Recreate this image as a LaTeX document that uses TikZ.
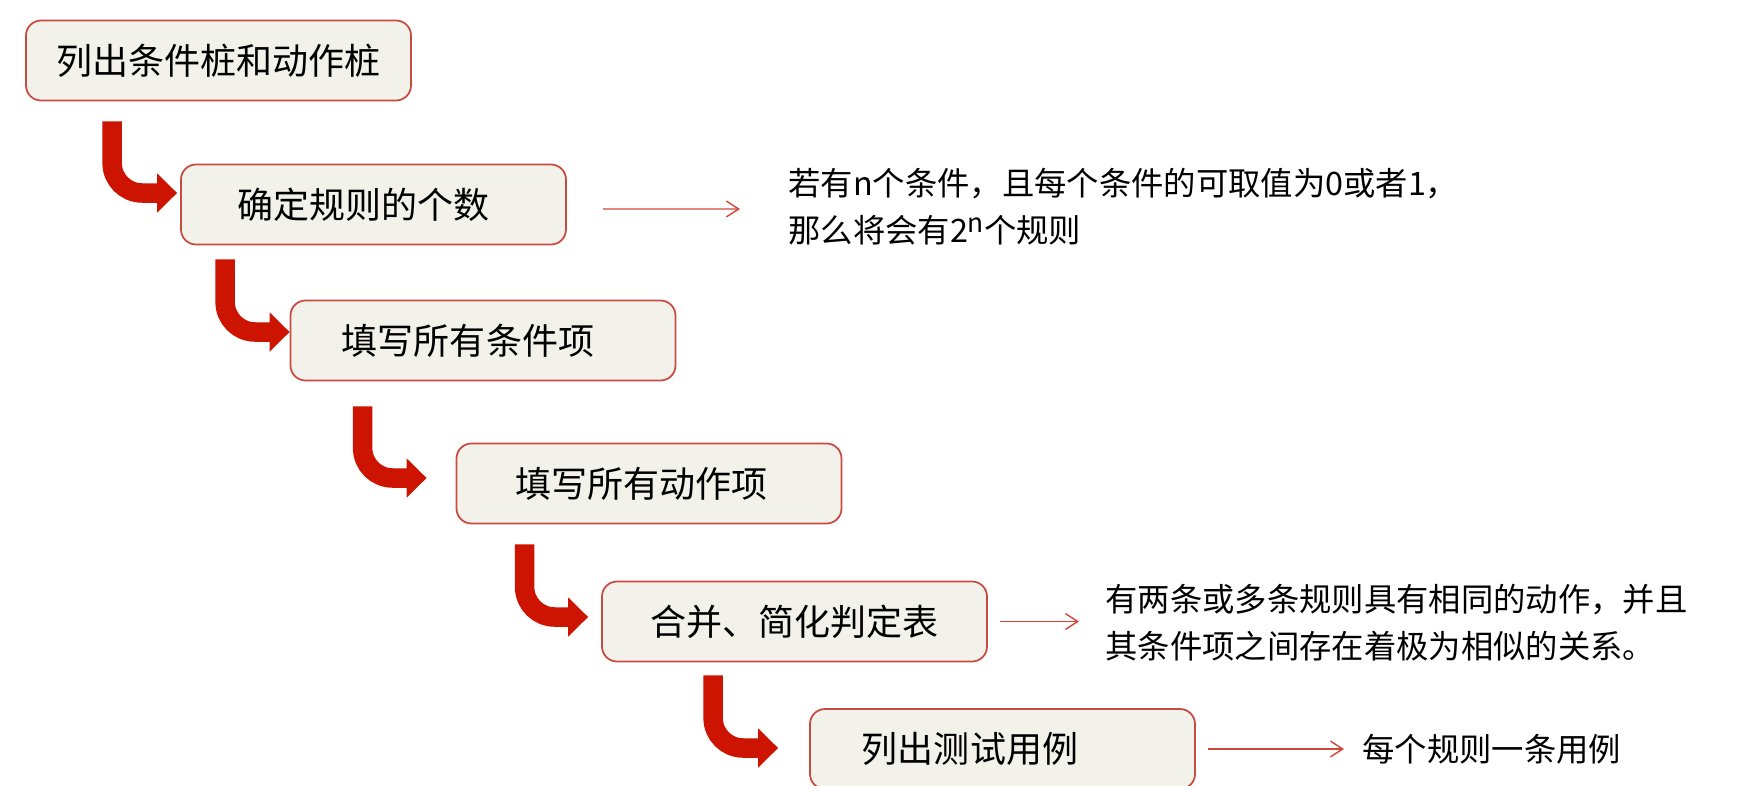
\documentclass[tikz,border=0pt]{standalone}
\usepackage{fontspec}
\setmainfont{Noto Sans CJK SC}
\usetikzlibrary{arrows.meta}
\usepackage{xcolor}

\definecolor{boxfill}{RGB}{242,242,234}
\definecolor{boxline}{RGB}{200,75,65}
\definecolor{bigred}{RGB}{204,20,0}
\definecolor{thinred}{RGB}{210,70,55}

\begin{document}
\begin{tikzpicture}[
        stepbox/.style={rectangle, rounded corners=0.3cm, draw=boxline, line width=1pt, fill=boxfill, minimum width=7.7cm, minimum height=1.6cm, inner sep=0pt, font=\fontsize{20.5}{24}\selectfont},
        note/.style={anchor=west, inner sep=0pt, align=left, font=\fontsize{18.4}{27}\selectfont},
        bigarrow/.style={bigred, line width=0.39cm, rounded corners=0.6cm, -{Triangle[length=0.4cm, width=0.76cm]}},
        notearrow/.style={thinred, line width=0.8pt, -{Straight Barb[length=7pt, width=9pt]}}
    ]
        \useasboundingbox (0,0) rectangle (34.9,-15.7);

        % Steps
        \node[stepbox] (b1) at (4.37, -1.21) {列出条件桩和动作桩};
        \node[stepbox] (b2) at (7.47, -4.09) {确定规则的个数\hspace*{0.4cm}};
        \node[stepbox] (b3) at (9.66, -6.81) {填写所有条件项\hspace*{0.6cm}};
        \node[stepbox] (b4) at (12.98, -9.67) {填写所有动作项\hspace*{0.3cm}};
        \node[stepbox] (b5) at (15.89, -12.43) {合并、简化判定表};
        \node[stepbox] (b6) at (20.05, -14.98) {列出测试用例\hspace*{1.3cm}};

        % Notes on right
        \node[note] (n1) at (15.76, -4.13) {若有n个条件，且每个条件的可取值为0或者1，\\那么将会有2\raisebox{0.55ex}{\fontsize{15}{15}\selectfont n}个规则};
        \node[note] (n2) at (22.10, -12.45) {有两条或多条规则具有相同的动作，并且\\其条件项之间存在着极为相似的关系。};
        \node[note] (n3) at (27.24, -14.98) {每个规则一条用例};

        % Arrows
        \draw[bigarrow] ([xshift=1.74cm, yshift=-0.4cm]b1.south west) |- ([xshift=-0.06cm, yshift=0.23cm]b2.west);
        \draw[bigarrow] ([xshift=0.9cm, yshift=-0.28cm]b2.south west) |- ([yshift=0.17cm]b3.west);
        \draw[bigarrow] ([xshift=1.46cm, yshift=-0.5cm]b3.south west) |- ([xshift=-0.58cm, yshift=0.11cm]b4.west);
        \draw[bigarrow] ([xshift=1.38cm, yshift=-0.4cm]b4.south west) |- ([xshift=-0.26cm, yshift=0.09cm]b5.west);
        \draw[bigarrow] ([xshift=2.24cm, yshift=-0.26cm]b5.south west) |- ([xshift=-0.62cm, yshift=0.02cm]b6.west);

        \draw[notearrow] ([xshift=0.72cm, yshift=-0.09cm]b2.east) -- ([xshift=-0.96cm, yshift=-0.05cm]n1.west);
        \draw[notearrow] ([xshift=0.24cm]b5.east) -- ([xshift=-0.52cm, yshift=0.02cm]n2.west);
        \draw[notearrow] ([xshift=0.24cm]b6.east) -- ([xshift=-0.36cm]n3.west);
    \end{tikzpicture}
\end{document}
